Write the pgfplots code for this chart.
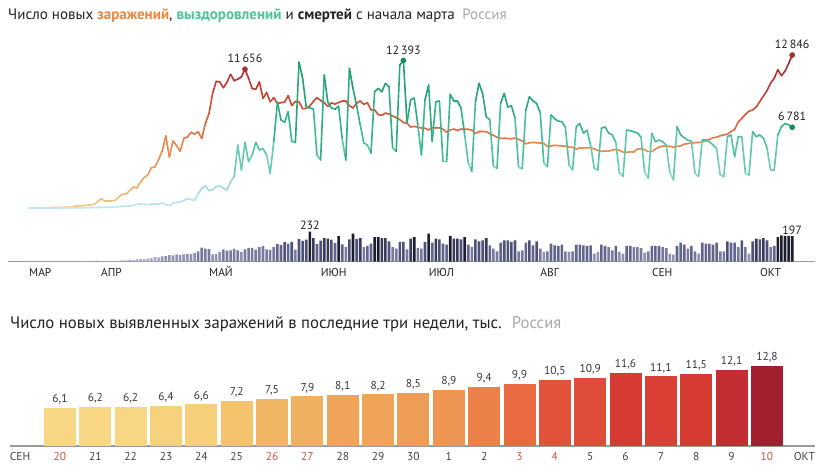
\documentclass[border=0pt]{standalone}
\usepackage{pgfplots}
\usepackage{pgfplotstable}
\pgfplotsset{compat=1.18}
\usepackage{fontspec}
\setmainfont{PT Sans}
\definecolor{txt}{HTML}{222222}
\definecolor{orng}{HTML}{EC863C}
\definecolor{grn}{HTML}{4CC39A}
\definecolor{grayt}{HTML}{A8A8A8}
\definecolor{axisc}{HTML}{9A9A9A}
\definecolor{wk}{HTML}{C9514A}
\definecolor{mred}{HTML}{A3323A}
\definecolor{mgrn}{HTML}{1B8A5A}
\definecolor{dA}{HTML}{A7A9C4}
\definecolor{dB}{HTML}{8E91B2}
\definecolor{dC}{HTML}{777A9E}
\definecolor{dD}{HTML}{62658B}
\definecolor{dE}{HTML}{4E5176}
\definecolor{dF}{HTML}{383A58}
\definecolor{dG}{HTML}{1C1D2D}
\definecolor{b1}{HTML}{F7D784}
\definecolor{b4}{HTML}{F6D27E}
\definecolor{b5}{HTML}{F6CF7B}
\definecolor{b6}{HTML}{F4C36C}
\definecolor{b7}{HTML}{F1B664}
\definecolor{b8}{HTML}{F0B061}
\definecolor{b9}{HTML}{EFA45A}
\definecolor{b11}{HTML}{EE9D57}
\definecolor{b12}{HTML}{EE9553}
\definecolor{b13}{HTML}{EB8049}
\definecolor{b14}{HTML}{E96A41}
\definecolor{b15}{HTML}{E3533C}
\definecolor{b16}{HTML}{DF4C39}
\definecolor{b17}{HTML}{D53A33}
\definecolor{b18}{HTML}{D93F35}
\definecolor{b20}{HTML}{C22E31}
\definecolor{b21}{HTML}{A21F2D}
\pgfplotsset{
  colormap={infcm}{rgb255(0cm)=(236,200,140) rgb255(2cm)=(234,176,104) rgb255(4cm)=(233,150,84) rgb255(5.5cm)=(232,128,72) rgb255(7cm)=(222,100,60) rgb255(9cm)=(205,72,52) rgb255(11cm)=(185,52,48) rgb255(13cm)=(160,38,52)},
  colormap={reccm}{rgb255(0cm)=(190,232,238) rgb255(1.5cm)=(165,222,225) rgb255(3cm)=(135,212,203) rgb255(5cm)=(85,196,167) rgb255(7cm)=(52,180,140) rgb255(9cm)=(40,165,118) rgb255(13cm)=(25,145,95)}
}
\pgfplotstableread{
d inf rec dth
-20 6 0 0
-19 17 0 0
-18 14 0 0
-17 4 0 0
-16 30 0 0
-15 21 0 0
-14 33 2 0
-13 52 3 1
-12 54 5 0
-11 53 5 0
-10 61 8 0
-9 71 5 0
-8 57 10 0
-7 163 15 1
-6 182 10 1
-5 196 20 0
-4 228 30 4
-3 270 20 1
-2 302 35 2
-1 501 40 8
0 771 45 7
1 601 60 6
2 601 50 4
3 582 80 4
4 658 100 2
5 954 110 2
6 1154 150 11
7 1175 140 11
8 1459 170 13
9 1786 220 12
10 1667 300 18
11 2186 350 20
12 2558 300 22
13 2774 280 24
14 3388 320 28
15 3448 350 36
16 4070 330 34
17 4785 430 41
18 6060 280 43
19 4268 200 51
20 5642 420 48
21 5236 460 57
22 4774 530 52
23 5849 600 56
24 5966 810 60
25 6361 700 58
26 6198 650 66
27 6411 1200 80
28 5841 1650 108
29 7099 1850 101
30 7933 1450 96
31 9623 1550 57
32 10633 1790 58
33 10581 1850 76
34 10102 1650 95
35 10559 1510 86
36 11231 2210 88
37 10699 2630 98
38 10817 5290 88
39 11012 3190 76
40 11656 5520 94
41 10899 3890 107
42 10028 4450 107
43 9974 5520 93
44 10598 4870 113
45 9200 5000 119
46 9709 4450 94
47 8926 2910 91
48 9263 5610 115
49 8764 8880 135
50 8849 7390 127
51 8894 7200 150
52 9434 8090 139
53 8599 5600 153
54 8946 5500 92
55 8915 12250 174
56 8338 10900 161
57 8371 8510 169
58 8572 8400 232
59 8952 8300 181
60 9268 4450 138
61 9035 4030 162
62 8863 11170 182
63 8536 8900 178
64 8831 8400 169
65 8726 8300 144
66 8855 8560 197
67 8984 5800 134
68 8985 4030 112
69 8595 11730 171
70 8404 10050 216
71 8779 8600 174
72 8987 7000 181
73 8706 5460 113
74 8835 5290 121
75 8246 4620 139
76 8248 9770 190
77 7843 10050 190
78 7790 9770 182
79 7972 10470 182
80 7889 10190 157
81 7728 5040 113
82 7600 4760 100
83 7425 12010 152
84 7176 12393 152
85 7113 7140 95
86 6800 9070 177
87 6852 9240 190
88 6791 7000 105
89 6719 4450 100
90 6693 9070 152
91 6556 10330 216
92 6760 5570 146
93 6718 8900 177
94 6736 9000 172
95 6611 3890 139
96 6368 3890 131
97 6562 9550 198
98 6632 9000 177
99 6509 9000 177
100 6635 8400 172
101 6611 6200 190
102 6615 3800 131
103 6537 3050 113
104 6248 8900 172
105 6422 10470 157
106 6428 9630 164
107 6406 7670 182
108 6234 7400 126
109 6109 3500 100
110 5940 3330 80
111 5842 8790 146
112 5862 9630 164
113 5848 8460 164
114 5811 8600 152
115 5871 7560 164
116 5765 3410 80
117 5635 3300 87
118 5395 8200 146
119 5475 9350 164
120 5509 9000 126
121 5482 8790 157
122 5462 8000 100
123 5427 3800 75
124 5159 3470 80
125 5204 7810 139
126 5267 7500 126
127 5241 7300 121
128 5212 7250 131
129 5189 6780 80
130 5118 3610 75
131 5102 3190 80
132 4945 6830 131
133 5057 7090 131
134 5041 6290 126
135 5065 6530 121
136 5061 5290 126
137 4969 3330 62
138 4839 3190 75
139 4748 6700 131
140 4790 6810 121
141 4767 6300 113
142 4870 6160 87
143 4921 5500 121
144 4852 2940 75
145 4696 2660 62
146 4676 6550 121
147 4711 6500 121
148 4706 6400 113
149 4941 6300 113
150 4980 5950 105
151 4897 3050 69
152 4729 2490 80
153 4729 6270 121
154 4952 5570 121
155 5110 5700 121
156 5205 5570 113
157 5195 5290 105
158 5185 3000 62
159 5099 2350 54
160 5172 6830 121
161 5218 6160 146
162 5363 5900 131
163 5406 5700 100
164 5449 5600 121
165 5488 2910 80
166 5509 2630 62
167 5529 5710 146
168 5670 5710 139
169 5762 5570 139
170 5905 5290 131
171 5944 5000 146
172 6065 2770 80
173 6148 2630 80
174 6196 5990 157
175 6431 6130 146
176 6595 4310 146
177 7212 5990 113
178 7523 6000 164
179 7867 2910 113
180 8135 2770 62
181 8232 6410 157
182 8481 5990 177
183 8945 6130 172
184 9412 5860 182
185 9859 5040 164
186 10499 3190 113
187 10888 3190 121
188 11615 6130 190
189 11115 6830 203
190 11493 7090 198
191 12126 7000 198
192 12846 6781 197
}\daily
\begin{document}
\begin{tikzpicture}
\useasboundingbox (0,0) rectangle (820bp,476bp);
\fill[white] (0,0) rectangle (820bp,476bp);
% titles
\node[anchor=base west, inner sep=0pt, text=txt, font=\fontsize{15.1}{18}\selectfont] at (8bp,456bp)
 {Число новых \textbf{\textcolor{orng}{заражений}}, \textbf{\textcolor{grn}{выздоровлений}} и \textbf{смертей} с~начала марта\hspace{0.5em}\textcolor{grayt}{Россия}};
\node[anchor=base west, inner sep=0pt, text=txt, font=\fontsize{16.8}{20}\selectfont] at (10bp,147bp)
 {Число новых выявленных заражений в~последние три недели, тыс.\hspace{0.6em}\textcolor{grayt}{Россия}};
% deaths bars
\begin{axis}[at={(8bp,214.3bp)}, anchor=south west, scale only axis,
  width=807bp, height=40bp, xmin=-25.83, xmax=198.33, ymin=0, ymax=308,
  axis y line=none, axis x line=bottom, axis line style={-, draw=axisc, line width=1.5bp},
  xtick={-20,0,30,61,91,122,153,183},
  xticklabels={МАР,АПР,МАЙ,ИЮН,ИЮЛ,АВГ,СЕН,ОКТ},
  xticklabel style={anchor=base west, inner sep=0pt, yshift=-14.8bp, text=txt, font=\fontsize{11.5}{13}\selectfont},
  major tick length=0pt, ybar, bar width=2.6bp, bar shift=0pt, clip=false]
\addplot[fill=dA, draw=none, restrict y to domain=0:39.5] table[x=d, y=dth] {\daily};
\addplot[fill=dB, draw=none, restrict y to domain=39.5:79.5] table[x=d, y=dth] {\daily};
\addplot[fill=dC, draw=none, restrict y to domain=79.5:119.5] table[x=d, y=dth] {\daily};
\addplot[fill=dD, draw=none, restrict y to domain=119.5:149.5] table[x=d, y=dth] {\daily};
\addplot[fill=dE, draw=none, restrict y to domain=149.5:174.5] table[x=d, y=dth] {\daily};
\addplot[fill=dF, draw=none, restrict y to domain=174.5:189.5] table[x=d, y=dth] {\daily};
\addplot[fill=dG, draw=none, restrict y to domain=189.5:400] table[x=d, y=dth] {\daily};
\node[anchor=south, inner sep=1.5bp, text=txt, font=\fontsize{12}{14}\selectfont] at (axis cs:58,232) {232};
\node[anchor=south, inner sep=1.5bp, text=txt, font=\fontsize{12}{14}\selectfont] at (axis cs:192,197) {197};
\end{axis}
% lines
\begin{axis}[at={(8bp,268bp)}, anchor=south west, scale only axis,
  width=807bp, height=168bp, xmin=-25.83, xmax=198.33, ymin=0, ymax=14112,
  hide axis, clip=false, point meta min=0, point meta max=13000]
\addplot[mesh, colormap name=infcm, point meta=y, line width=1.6bp, line cap=round, line join=round] table[x=d, y=inf] {\daily};
\addplot[mesh, colormap name=reccm, point meta=y, line width=1.6bp, line cap=round, line join=round] table[x=d, y=rec] {\daily};
\addplot[only marks, mark=*, mark size=2.6bp, color=mred] coordinates {(40,11656) (192,12846)};
\addplot[only marks, mark=*, mark size=2.6bp, color=mgrn] coordinates {(84,12393) (192,6781)};
\node[anchor=south, inner sep=2bp, yshift=4bp, text=txt, font=\fontsize{12}{14}\selectfont] at (axis cs:40,11656) {11\,656};
\node[anchor=south, inner sep=2bp, yshift=4bp, text=txt, font=\fontsize{12}{14}\selectfont] at (axis cs:84,12393) {12\,393};
\node[anchor=south, inner sep=2bp, yshift=4bp, text=txt, font=\fontsize{12}{14}\selectfont] at (axis cs:192,12846) {12\,846};
\node[anchor=south, inner sep=2bp, yshift=4bp, text=txt, font=\fontsize{12}{14}\selectfont] at (axis cs:192,6781) {6\,781};
\end{axis}
% bottom bar chart
\begin{axis}[at={(10bp,30.3bp)}, anchor=south west, scale only axis,
  width=805bp, height=100bp, xmin=-1.414, xmax=21.36, ymin=0, ymax=16,
  axis y line=none, axis x line=bottom, axis line style={-, draw=axisc, line width=2bp},
  ybar, bar width=32bp, bar shift=0pt, major tick length=0pt, clip=false,
  xtick={-1.13,0,1,2,3,4,5,6,7,8,9,10,11,12,13,14,15,16,17,18,19,20,21.06},
  xticklabels={СЕН,\textcolor{wk}{20},21,22,23,24,25,\textcolor{wk}{26},\textcolor{wk}{27},28,29,30,1,2,\textcolor{wk}{3},\textcolor{wk}{4},5,6,7,8,9,\textcolor{wk}{10},ОКТ},
  xticklabel style={anchor=base, yshift=-15bp, text=txt!85, font=\fontsize{11.5}{13}\selectfont},
  nodes near coords,
  every node near coord/.append style={text=txt!90, font=\fontsize{11.5}{13}\selectfont},
  /pgf/number format/fixed, /pgf/number format/fixed zerofill,
  /pgf/number format/precision=1, /pgf/number format/use comma,
  /pgf/number format/assume math mode=true]
\addplot[fill=b1, draw=none] coordinates {(0,6.1)};
\addplot[fill=b1, draw=none] coordinates {(1,6.2)};
\addplot[fill=b1, draw=none] coordinates {(2,6.2)};
\addplot[fill=b4, draw=none] coordinates {(3,6.4)};
\addplot[fill=b5, draw=none] coordinates {(4,6.6)};
\addplot[fill=b6, draw=none] coordinates {(5,7.2)};
\addplot[fill=b7, draw=none] coordinates {(6,7.5)};
\addplot[fill=b8, draw=none] coordinates {(7,7.9)};
\addplot[fill=b9, draw=none] coordinates {(8,8.1)};
\addplot[fill=b9, draw=none] coordinates {(9,8.2)};
\addplot[fill=b11, draw=none] coordinates {(10,8.5)};
\addplot[fill=b12, draw=none] coordinates {(11,8.9)};
\addplot[fill=b13, draw=none] coordinates {(12,9.4)};
\addplot[fill=b14, draw=none] coordinates {(13,9.9)};
\addplot[fill=b15, draw=none] coordinates {(14,10.5)};
\addplot[fill=b16, draw=none] coordinates {(15,10.9)};
\addplot[fill=b17, draw=none] coordinates {(16,11.6)};
\addplot[fill=b18, draw=none] coordinates {(17,11.1)};
\addplot[fill=b17, draw=none] coordinates {(18,11.5)};
\addplot[fill=b20, draw=none] coordinates {(19,12.1)};
\addplot[fill=b21, draw=none] coordinates {(20,12.8)};
\end{axis}
\end{tikzpicture}
\end{document}
